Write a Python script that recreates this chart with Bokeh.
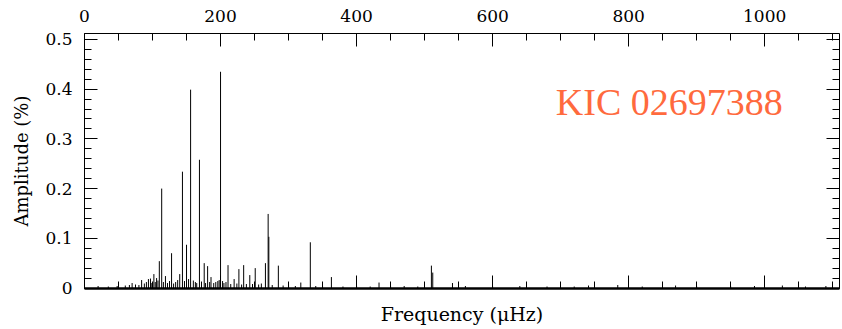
from bokeh.plotting import figure
from bokeh.models import Range1d, LinearAxis, SingleIntervalTicker, Label, CustomLabelingPolicy
from bokeh.embed import file_html
from bokeh.resources import INLINE

# Main oscillation peaks (frequency in muHz, amplitude in %)
peak_freq = [70, 84, 94, 97, 102, 106, 110, 113.5, 119, 128, 140, 144, 150, 156,
             169, 176, 181, 186, 200, 211, 220, 227, 234, 243, 251, 266, 270, 271,
             285, 318, 332, 363, 433, 510, 512, 541]
peak_amp = [0.010, 0.016, 0.018, 0.019, 0.028, 0.020, 0.054, 0.200, 0.024, 0.070,
            0.028, 0.234, 0.087, 0.399, 0.258, 0.050, 0.044, 0.022, 0.435, 0.046,
            0.018, 0.038, 0.046, 0.026, 0.040, 0.050, 0.149, 0.103, 0.045, 0.011,
            0.092, 0.022, 0.011, 0.045, 0.031, 0.010]

# Low-level noise spikes
noise_freq = [20, 35, 48, 60, 66, 75, 80, 88, 91, 99, 104, 108, 116, 122, 125, 131,
              134, 137, 147, 153, 160, 163, 165, 172, 178, 184, 190, 193, 196, 198,
              203, 205, 208, 215, 224, 231, 238, 247, 256, 260, 276, 292, 300, 310,
              340, 350, 380, 400, 420, 450, 470, 490, 560, 600, 640, 680, 720, 741,
              784, 820, 869, 900, 950, 985, 1026, 1060, 1090]
noise_amp = [0.004, 0.003, 0.004, 0.005, 0.006, 0.007, 0.006, 0.009, 0.012, 0.010,
             0.012, 0.015, 0.012, 0.010, 0.014, 0.009, 0.012, 0.016, 0.014, 0.018,
             0.015, 0.012, 0.010, 0.013, 0.010, 0.012, 0.010, 0.012, 0.014, 0.016,
             0.014, 0.010, 0.012, 0.008, 0.009, 0.007, 0.008, 0.008, 0.007, 0.009,
             0.006, 0.005, 0.005, 0.004, 0.004, 0.003, 0.003, 0.004, 0.003, 0.003,
             0.004, 0.003, 0.004, 0.003, 0.004, 0.003, 0.003, 0.005, 0.006, 0.003,
             0.005, 0.003, 0.003, 0.004, 0.005, 0.003, 0.004]

title_text = "KIC 02697388"

FONT = "DejaVu Serif"

p = figure(width=842, height=329, output_backend="svg", toolbar_location=None,
           x_range=Range1d(0, 1110), y_range=Range1d(-0.001, 0.512),
           x_axis_location=None, y_axis_location=None,
           min_border_left=84, min_border_right=3, min_border_top=33, min_border_bottom=41)
p.outline_line_color = None
p.grid.visible = False
p.background_fill_color = "white"
p.border_fill_color = "white"

no_labels = CustomLabelingPolicy(code="return new Set()")

def style(ax, labels=True):
    ax.axis_line_color = "black"
    ax.axis_line_width = 1
    ax.major_tick_in = 13
    ax.major_tick_out = 0
    ax.minor_tick_in = 7
    ax.minor_tick_out = 0
    ax.major_tick_line_color = "black"
    ax.minor_tick_line_color = "black"
    ax.major_label_text_font = FONT
    ax.major_label_text_font_size = "17px" if labels else "0px"
    ax.major_label_text_color = "black"
    if not labels:
        ax.major_label_policy = no_labels
    ax.axis_label_text_font = FONT
    ax.axis_label_text_font_size = "18px"
    ax.axis_label_text_font_style = "normal"
    ax.axis_label_text_color = "black"

xt = SingleIntervalTicker(interval=200, num_minor_ticks=4)
yt = SingleIntervalTicker(interval=0.1, num_minor_ticks=5)

top = LinearAxis(ticker=xt)
style(top)
top.major_label_standoff = 12
p.add_layout(top, "above")

bottom = LinearAxis(ticker=xt, axis_label="Frequency (\u03bcHz)")
style(bottom, labels=False)
bottom.axis_label_text_font_size = "19px"
bottom.axis_line_width = 2.5
bottom.major_label_standoff = 0
bottom.axis_label_standoff = 14
p.add_layout(bottom, "below")

left = LinearAxis(ticker=yt, axis_label="Amplitude (%)")
style(left)
left.major_label_standoff = 12
left.axis_label_standoff = 10
left.major_label_overrides = {0: "0"}
p.add_layout(left, "left")

right = LinearAxis(ticker=yt)
style(right, labels=False)
right.major_label_standoff = 0
p.add_layout(right, "right")

p.segment(x0=noise_freq, y0=[0]*len(noise_freq), x1=noise_freq, y1=noise_amp,
          line_color="black", line_width=1)
p.segment(x0=peak_freq, y0=[0]*len(peak_freq), x1=peak_freq, y1=peak_amp,
          line_color="black", line_width=1)

p.add_layout(Label(x=693, y=0.375, text=title_text, text_font="Liberation Serif",
                   text_font_size="38px", text_color="#FF6A3D",
                   text_align="left", text_baseline="alphabetic"))

open("out.html", "w").write(file_html(p, INLINE))
